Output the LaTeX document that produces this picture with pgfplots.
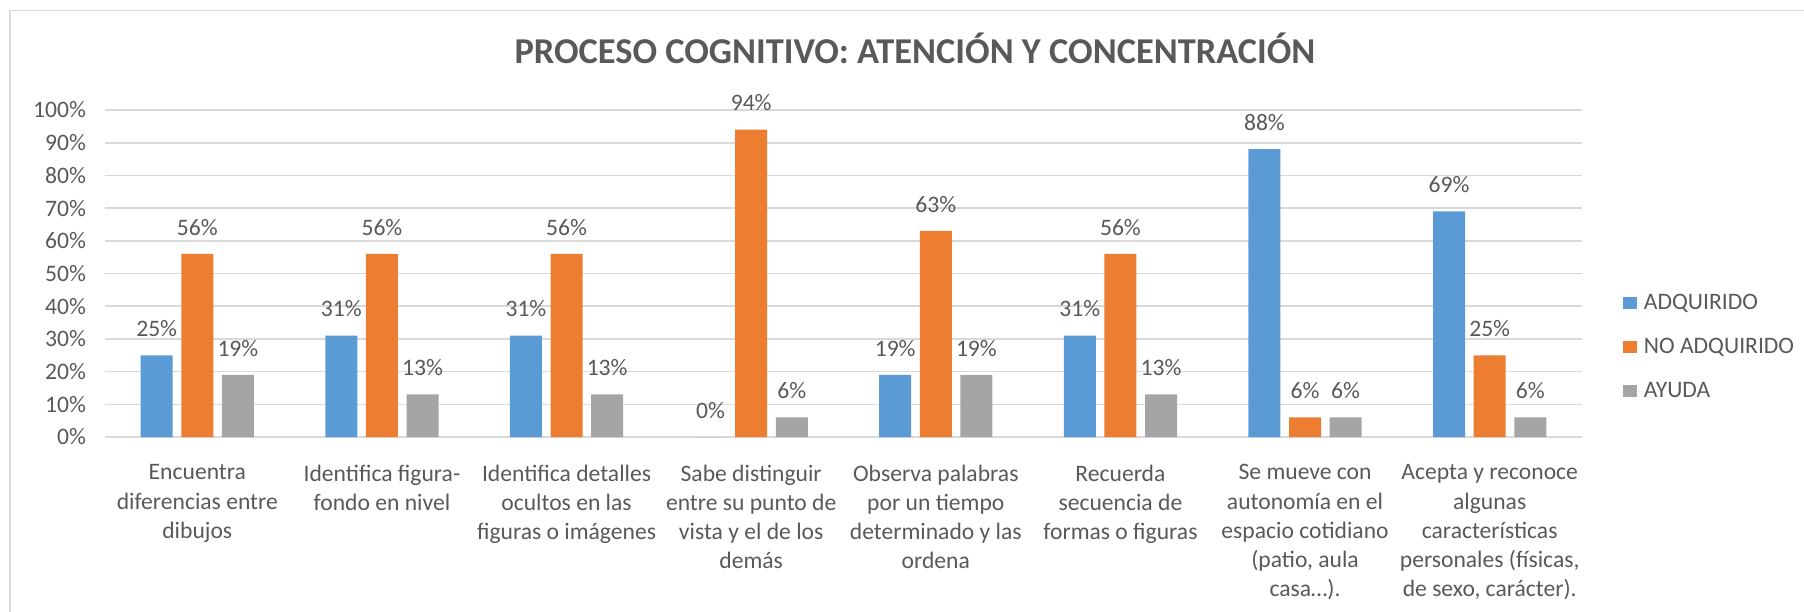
\documentclass[border=0pt]{standalone}
\usepackage{fontspec}
\setmainfont{Carlito}
\usepackage{pgfplots}
\pgfplotsset{compat=1.18}
\definecolor{cblue}{HTML}{5B9BD5}
\definecolor{corange}{HTML}{ED7D31}
\definecolor{cgray}{HTML}{A5A5A5}
\definecolor{textgray}{HTML}{595959}
\definecolor{gridgray}{HTML}{D9D9D9}
\newcommand{\lblfont}{\fontsize{11.8}{13.4}\selectfont}
\newcommand{\catfont}{\fontsize{11.8}{14.6}\selectfont}
\begin{document}
\begin{tikzpicture}
\begin{axis}[
  at={(0pt,0pt)}, anchor=south west,
  scale only axis, width=738.5pt, height=163.5pt,
  xmin=-0.5, xmax=7.5, ymin=0, ymax=100,
  ybar=4.3pt, bar width=16pt,
  axis line style={draw=none},
  major tick length=0pt,
  ymajorgrids, grid style={draw=gridgray, line width=0.8pt},
  ytick={0,10,...,100},
  yticklabel={\pgfmathprintnumber{\tick}\%},
  /pgf/number format/assume math mode=true,
  yticklabel style={font=\lblfont, text=textgray, xshift=-6pt},
  xtick=data,
  xticklabels={
    {Encuentra\\diferencias entre\\dibujos},
    {Identifica figura-\\fondo en nivel},
    {Identifica detalles\\ocultos en las\\figuras o imágenes},
    {Sabe distinguir\\entre su punto de\\vista y el de los\\demás},
    {Observa palabras\\por un tiempo\\determinado y las\\ordena},
    {Recuerda\\secuencia de\\formas o figuras},
    {Se mueve con\\autonomía en el\\espacio cotidiano\\(patio, aula\\casa…).},
    {Acepta y reconoce\\algunas\\características\\personales (físicas,\\de sexo, carácter).}},
  xticklabel style={font=\catfont, text=textgray, align=center, yshift=-10.3pt},
  nodes near coords={\pgfmathprintnumber{\pgfplotspointmeta}\%},
  nodes near coords style={font=\lblfont, text=textgray, yshift=5.75pt},
  title={PROCESO COGNITIVO: ATENCIÓN Y CONCENTRACIÓN},
  title style={at={(0.5484,1.106)}, anchor=base, font=\bfseries\fontsize{18.2}{21}\selectfont, text=textgray},
  legend style={at={(1.0278,0.275)}, anchor=west, draw=none, fill=none,
    font=\lblfont, text=textgray, inner sep=0pt, row sep=11pt,
    nodes={inner sep=0pt, text height=8.5pt, text depth=2.5pt}},
  legend cell align=left,
  legend image code/.code={\fill[#1] (0pt,-3pt) rectangle (6.6pt,3.2pt); \path (0pt,0pt) -- (10.2pt,0pt);},
]
\addplot[fill=cblue, draw=none] coordinates {(0,25) (1,31) (2,31) (3,0) (4,19) (5,31) (6,88) (7,69)};
\addplot[fill=corange, draw=none] coordinates {(0,56) (1,56) (2,56) (3,94) (4,63) (5,56) (6,6) (7,25)};
\addplot[fill=cgray, draw=none] coordinates {(0,19) (1,13) (2,13) (3,6) (4,19) (5,13) (6,6) (7,6)};
\legend{ADQUIRIDO, NO ADQUIRIDO, AYUDA}
\end{axis}
\draw[gridgray, line width=0.75pt] (-47.5pt,-100pt) -- (-47.5pt,213.15pt) -- (900pt,213.15pt);
\pgfresetboundingbox
\path[use as bounding box] (-52.5pt,-87pt) rectangle (849.5pt,218.5pt);
\end{tikzpicture}
\end{document}
